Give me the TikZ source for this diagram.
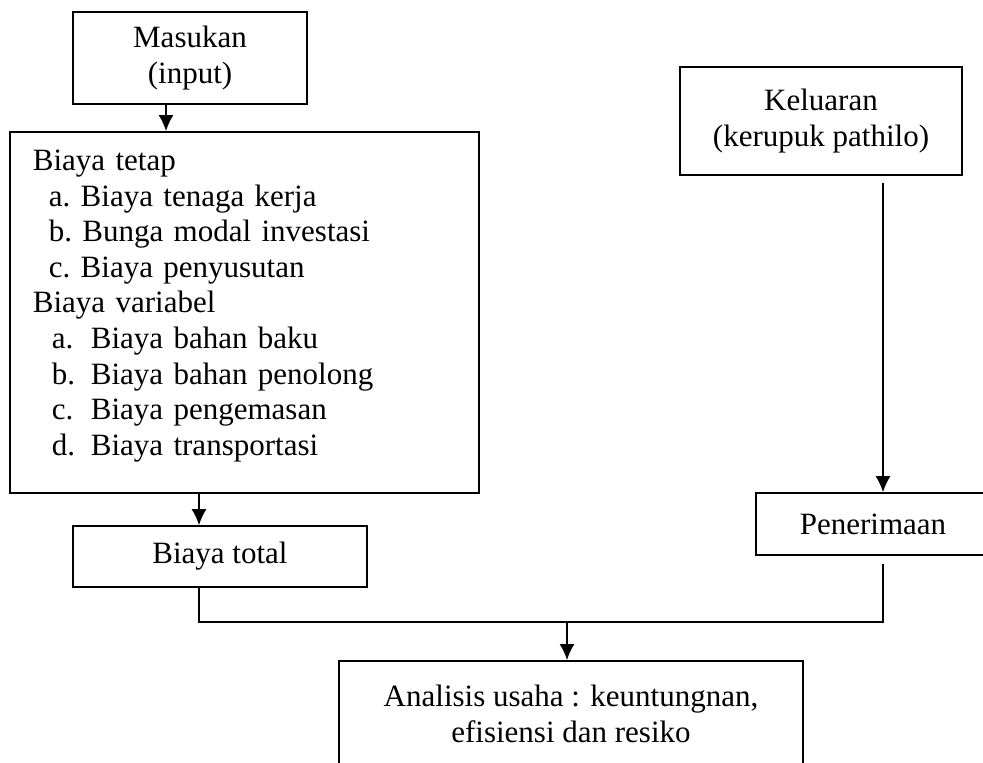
\documentclass[tikz,border=0pt]{standalone}
\usepackage{fontspec}
\setmainfont{Liberation Serif}
\usepackage{tikz}
\usetikzlibrary{arrows.meta}

\begin{document}
\begin{tikzpicture}[x=0.5pt, y=-0.5pt,
        box/.style={draw=black, line width=0.9pt, inner sep=0pt, align=center,
                    font=\fontsize{15.5}{17.8}\selectfont},
        arr/.style={-{Latex[length=8pt,width=7.5pt]}, line width=0.7pt},
        link/.style={line width=0.7pt}]

        	\useasboundingbox (0,0) rectangle (983,762);
        	\clip (0,0) rectangle (983,762);

        	\node[box, minimum width=117pt, minimum height=46pt] (masukan) at (190, 58) {Masukan\\(input)};
        	\node[box, anchor=north west, text width=211.5pt, align=left, inner xsep=11.5pt, inner ysep=9pt] (biaya) at (9, 131) {Biaya tetap\\
        	\hspace*{8pt}a.\ Biaya tenaga kerja\\
        	\hspace*{8pt}b.\ Bunga modal investasi\\
        	\hspace*{8pt}c.\ Biaya penyusutan\\
        	Biaya variabel\\
        	\hspace*{9.5pt}\makebox[19.5pt][l]{a.}Biaya bahan baku\\
        	\hspace*{9.5pt}\makebox[19.5pt][l]{b.}Biaya bahan penolong\\
        	\hspace*{9.5pt}\makebox[19.5pt][l]{c.}Biaya pengemasan\\
        	\hspace*{9.5pt}\makebox[19.5pt][l]{d.}Biaya transportasi\rule[-10pt]{0pt}{10pt}};
        	\node[box, minimum width=147pt, minimum height=30.5pt] (total) at (220, 556.5) {Biaya total};
        	\node[box, minimum width=141pt, minimum height=54pt] (keluaran) at (821, 121) {Keluaran\\(kerupuk pathilo)};
        	\node[box, minimum width=117pt, minimum height=31pt] (penerimaan) at (873, 524) {Penerimaan};
        	\node[box, anchor=north, minimum width=231.75pt, inner ysep=12pt] (analisis) at (571, 660) {Analisis usaha : keuntungnan,\\efisiensi dan resiko};

        	\coordinate (merge) at (567, 622);

        	\draw[arr] ([xshift=-12pt]masukan.south) -- ([xshift=-12pt]masukan.south |- biaya.north);
        	\draw[arr] ([xshift=-10.5pt]total.north |- biaya.south) -- ([xshift=-10.5pt]total.north);
        	\draw[arr, shorten <=3.5pt] ([xshift=31pt]keluaran.south) -- ([xshift=31pt]keluaran.south |- penerimaan.north);
        	\draw[link, shorten >=4pt] ([xshift=-10.5pt]total.south) |- (merge) -| ([xshift=5pt]penerimaan.south);
        	\draw[arr] (merge) -- (merge |- analisis.north);

        	\end{tikzpicture}
\end{document}
